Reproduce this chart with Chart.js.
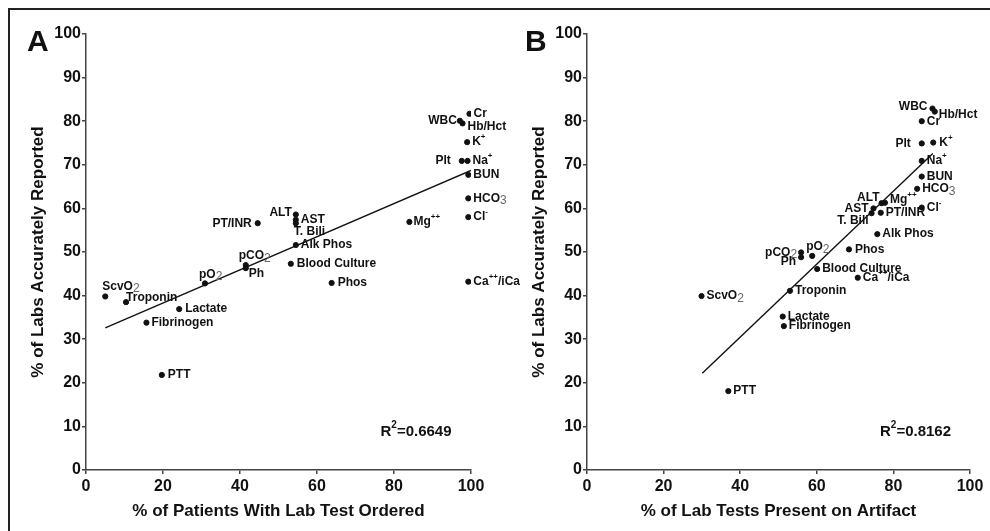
<!DOCTYPE html>
<html>
<head>
<meta charset="utf-8">
<script src="https://cdn.jsdelivr.net/npm/chart.js@4.4.1/dist/chart.umd.min.js"></script>
<style>
  html, body { margin: 0; padding: 0; background: #fff; }
  #wrap { position: relative; width: 990px; height: 531px; overflow: hidden; background: #fff; }
  #frame { position: absolute; left: 8px; top: 8px; width: 1100px; height: 700px;
           border-top: 2px solid #222; border-left: 2px solid #222; }
  .panel { position: absolute; top: 0; height: 531px; }
</style>
</head>
<body>
<div id="wrap">
  <div id="frame"></div>
  <div class="panel" style="left:0;width:560px"><canvas id="chartA" width="560" height="531"></canvas></div>
  <div class="panel" style="left:495px;width:495px"><canvas id="chartB" width="495" height="531"></canvas></div>
</div>
<script>
// lab tests (_x = subscript, ^x = superscript)
const tests = ["ScvO_2", "Troponin", "pO_2", "pCO_2", "Ph", "Lactate", "Fibrinogen", "PTT",
  "PT/INR", "ALT", "AST", "T. Bili", "Alk Phos", "Blood Culture", "Phos",
  "WBC", "Hb/Hct", "Cr", "K^+", "Plt", "Na^+", "BUN", "HCO_3", "Cl^-", "Mg^++", "Ca^++/iCa"];

// panel A: % of patients with lab test ordered vs % accurately reported
const orderedA  = [5.0, 10.4, 30.9, 41.5, 41.5, 24.2, 15.7, 19.7,
  44.6, 54.5, 54.5, 54.5, 54.5, 53.2, 63.8,
  97.1, 97.8, 99.6, 99.0, 97.6, 99.1, 99.3, 99.3, 99.3, 84.0, 99.3];
const accurateA = [39.8, 38.5, 42.8, 47.0, 46.3, 36.9, 33.8, 21.8,
  56.6, 58.6, 57.4, 56.6, 51.6, 47.3, 42.9,
  80.1, 79.5, 81.7, 75.2, 70.9, 70.9, 67.7, 62.3, 58.0, 56.9, 43.2];

// panel B: % of lab tests present on artifact vs % accurately reported
const artifactB = [29.9, 53.0, 58.8, 55.9, 55.9, 51.1, 51.4, 36.9,
  76.7, 76.9, 74.8, 74.3, 75.8, 60.1, 68.4,
  90.2, 90.8, 87.4, 90.4, 87.4, 87.4, 87.4, 86.2, 87.4, 77.8, 70.7];
const accurateB = [39.9, 41.1, 49.1, 49.9, 48.8, 35.2, 33.0, 18.1,
  59.0, 61.2, 60.0, 58.9, 54.1, 46.1, 50.6,
  82.9, 82.2, 80.0, 75.1, 74.9, 70.9, 67.3, 64.5, 60.2, 61.3, 44.1];

// regression lines (end points)
const fitAx = [5, 100];
const fitAy = [32.6, 68.7];
const fitBx = [30.1, 90.3];
const fitBy = [22.2, 72.6];

const r2A = "0.6649";
const r2B = "0.8162";

// label placement next to each dot: [dx, dy, align]
const placeA = [[-3, -10, "l"], [0, -4, "l"], [-6, -9, "l"], [-7, -9, "l"], [3, 6, "l"], [6, 0, "l"], [5, 0, "l"], [6, 0, "l"],
  [-6, 0, "r"], [-4, -2, "r"], [5, 0, "l"], [-2, 8, "l"], [5, 0, "l"], [6, 0, "l"], [6, 0, "l"],
  [-3, 0, "r"], [5, 3, "l"], [4, 0, "l"], [5, 0, "l"], [-11, 0, "r"], [5, 0, "l"], [5, 0, "l"], [5, 0, "l"], [5, 0, "l"], [4, 0, "l"], [5, 0, "l"]];
const placeB = [[5, 0, "l"], [5, 0, "l"], [-6, -9, "l"], [-4, 0, "r"], [-5, 4, "r"], [5, 0, "l"], [5, 0, "l"], [5, 0, "l"],
  [5, 0, "l"], [-2, -5, "r"], [-5, 0, "r"], [-3, 7, "r"], [5, 0, "l"], [5, 0, "l"], [6, 0, "l"],
  [-5, -2, "r"], [4, 3, "l"], [5, 0, "l"], [6, 0, "l"], [-11, 0, "r"], [5, 0, "l"], [5, 0, "l"], [5, 0, "l"], [5, 0, "l"], [5, -3, "l"], [5, 0, "l"]];

const FAM = "'Liberation Sans', Arial, Helvetica, sans-serif";
const INK = "#111";
Chart.defaults.font.family = FAM;

function drawRich(ctx, text, x, y, align, size) {
  const parts = [];
  const re = /_(\w)|\^([+\-\d]+)|([^_^]+)/g;
  let m;
  while ((m = re.exec(text))) {
    if (m[1]) parts.push({ t: m[1], kind: "sub" });
    else if (m[2]) parts.push({ t: m[2], kind: "sup" });
    else parts.push({ t: m[3], kind: "n" });
  }
  const fontOf = (k) => k === "n" ? `bold ${size}px ${FAM}`
    : k === "sub" ? `${size}px ${FAM}` : `bold ${Math.round(size * 0.68)}px ${FAM}`;
  let w = 0;
  for (const p of parts) {
    ctx.font = fontOf(p.kind);
    p.w = ctx.measureText(p.t).width;
    w += p.w;
  }
  let cx = align === "r" ? x - w : x;
  ctx.textAlign = "left";
  ctx.textBaseline = "middle";
  for (const p of parts) {
    ctx.font = fontOf(p.kind);
    ctx.fillStyle = p.kind === "sub" ? "#666" : INK;
    const dy = p.kind === "sub" ? size * 0.22 : p.kind === "sup" ? -size * 0.42 : 0;
    ctx.fillText(p.t, cx, y + dy);
    cx += p.w;
  }
}

const labelPlugin = {
  id: "pointLabels",
  afterDatasetsDraw(chart, args, opts) {
    const ctx = chart.ctx;
    const meta = chart.getDatasetMeta(0);
    ctx.save();
    meta.data.forEach((pt, i) => {
      const [dx, dy, al] = opts.place[i];
      drawRich(ctx, tests[i], pt.x + dx, pt.y + dy, al, 12);
    });
    // R squared note
    const xs = chart.scales.x, ys = chart.scales.y;
    drawRich(ctx, "R^2=" + opts.r2, xs.getPixelForValue(76.5), ys.getPixelForValue(8.8), "l", 15);
    // panel letter
    ctx.font = `bold 30px ${FAM}`;
    ctx.fillStyle = INK;
    ctx.textAlign = "left";
    ctx.textBaseline = "alphabetic";
    ctx.fillText(opts.letter, opts.letterX, 51);
    ctx.restore();
  }
};

function makePanel(id, xs, ys, fx, fy, opts) {
  const points = xs.map((x, i) => ({ x, y: ys[i] }));
  const fit = fx.map((x, i) => ({ x, y: fy[i] }));
  const axisBase = {
    type: "linear",
    min: 0,
    max: 100,
    border: { color: "#444", width: 1.5 },
    grid: { drawOnChartArea: false, drawTicks: true, tickLength: 4, color: "#444", lineWidth: 1.5 },
    title: { display: true, color: INK, font: { size: 17, weight: "bold" }, padding: 0 }
  };
  return new Chart(document.getElementById(id), {
    type: "scatter",
    data: {
      datasets: [
        { data: points, backgroundColor: INK, borderColor: INK, pointRadius: 2.6, pointHoverRadius: 2.6 },
        { type: "line", data: fit, borderColor: INK, borderWidth: 1.4, pointRadius: 0, fill: false, tension: 0 }
      ]
    },
    options: {
      responsive: false,
      animation: false,
      events: [],
      layout: { padding: { left: opts.padLeft, right: opts.padRight, top: 34, bottom: 9 } },
      plugins: {
        legend: { display: false },
        tooltip: { enabled: false },
        pointLabels: { place: opts.place, r2: opts.r2, letter: opts.letter, letterX: opts.letterX }
      },
      scales: {
        x: {
          ...axisBase,
          ticks: { stepSize: 20, color: INK, padding: 3, font: { size: 16, weight: "bold" } },
          title: { ...axisBase.title, text: opts.xTitle },
          afterFit: (s) => { s.height = 52; }
        },
        y: {
          ...axisBase,
          ticks: { stepSize: 10, color: INK, padding: 1, font: { size: 16, weight: "bold" } },
          title: { ...axisBase.title, text: "% of Labs Accurately Reported" },
          afterFit: (s) => { s.width = 58; }
        }
      }
    },
    plugins: [labelPlugin]
  });
}

makePanel("chartA", orderedA, accurateA, fitAx, fitAy, {
  padLeft: 28, padRight: 89, place: placeA, r2: r2A, letter: "A", letterX: 27,
  xTitle: "% of Patients With Lab Test Ordered"
});
makePanel("chartB", artifactB, accurateB, fitBx, fitBy, {
  padLeft: 34, padRight: 20, place: placeB, r2: r2B, letter: "B", letterX: 30,
  xTitle: "% of Lab Tests Present on Artifact"
});
</script>
</body>
</html>
